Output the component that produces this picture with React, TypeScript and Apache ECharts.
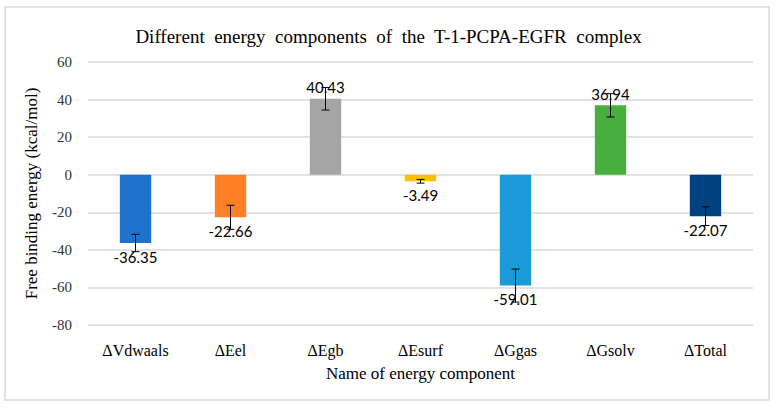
import React, { useEffect, useRef } from "react";
import * as echarts from "echarts";

const categories = ["ΔVdwaals", "ΔEel", "ΔEgb", "ΔEsurf", "ΔGgas", "ΔGsolv", "ΔTotal"];
const values = [-36.35, -22.66, 40.43, -3.49, -59.01, 36.94, -22.07];
const errors = [4.6, 6.4, 6.0, 1.0, 8.8, 6.2, 5.0];
const colors = ["#1F72CB", "#FF7F27", "#A5A5A5", "#FFC000", "#1A9BD7", "#48AE3D", "#00417F"];
const yTicks = [-80, -60, -40, -20, 0, 20, 40, 60];

export default function App() {
  const ref = useRef<HTMLDivElement>(null);
  useEffect(() => {
    if (!ref.current) return;
    const chart = echarts.init(ref.current, undefined, { renderer: "svg" });
    const serif = "Liberation Serif";
    chart.setOption({
      animation: false,
      backgroundColor: "#ffffff",
      title: {
        text: "Different  energy  components  of  the  T-1-PCPA-EGFR  complex",
        left: "center",
        top: 22,
        textStyle: { fontFamily: serif, fontSize: 19, fontWeight: "normal", color: "#000" },
      },
      graphic: [
        {
          type: "rect",
          shape: { x: 5, y: 7, width: 764, height: 393 },
          style: { fill: "none", stroke: "#D9D9D9", lineWidth: 1.5 },
          silent: true,
        },
      ],
      grid: { left: 88, right: 24, top: 62, bottom: 85 },
      xAxis: {
        type: "category",
        data: categories,
        name: "Name of energy component",
        nameLocation: "middle",
        nameGap: 40,
        nameTextStyle: { fontFamily: serif, fontSize: 17, color: "#000", fontStyle: "normal" },
        axisLine: { show: false },
        axisTick: { show: false },
        axisLabel: { interval: 0, fontFamily: serif, fontSize: 16, color: "#000", margin: 17 },
      },
      yAxis: {
        type: "value",
        min: yTicks[0],
        max: yTicks[yTicks.length - 1],
        interval: 20,
        name: "Free binding energy (kcal/mol)",
        nameLocation: "middle",
        nameGap: 48,
        nameTextStyle: { fontFamily: serif, fontSize: 17, color: "#000" },
        axisLabel: { margin: 16, textStyle: { fontFamily: serif, fontSize: 15, color: "#333" } },
        splitLine: { lineStyle: { color: "#D9D9D9", width: 1.5 } },
        axisLine: { show: false },
        axisTick: { show: false },
      },
      series: [
        {
          type: "bar",
          barWidth: "33%",
          data: values.map((v, i) => ({
            value: v,
            itemStyle: { color: colors[i] },
            label: {
              show: true,
              position: v >= 0 ? "top" : "bottom",
              distance: v >= 0 ? 4 : 6,
              formatter: v.toFixed(2),
              fontFamily: "Lato",
              fontSize: 15,
              color: "#000",
            },
          })),
          z: 2,
        },
        {
          type: "custom",
          z: 3,
          data: values.map((v, i) => [i, v - errors[i], v + errors[i]]),
          renderItem: (params: any, api: any) => {
            const idx = api.value(0);
            const lo = api.coord([idx, api.value(1)]);
            const hi = api.coord([idx, api.value(2)]);
            const w = 4;
            const style = { stroke: "#000", lineWidth: 1 };
            return {
              type: "group",
              children: [
                { type: "line", shape: { x1: lo[0], y1: lo[1], x2: hi[0], y2: hi[1] }, style },
                { type: "line", shape: { x1: lo[0] - w, y1: lo[1], x2: lo[0] + w, y2: lo[1] }, style },
                { type: "line", shape: { x1: hi[0] - w, y1: hi[1], x2: hi[0] + w, y2: hi[1] }, style },
              ],
            };
          },
        },
      ],
    });
    return () => chart.dispose();
  }, []);
  return (
    <div
      ref={ref}
      style={{ position: "fixed", left: 0, top: 0, width: 777, height: 410 }}
    />
  );
}
